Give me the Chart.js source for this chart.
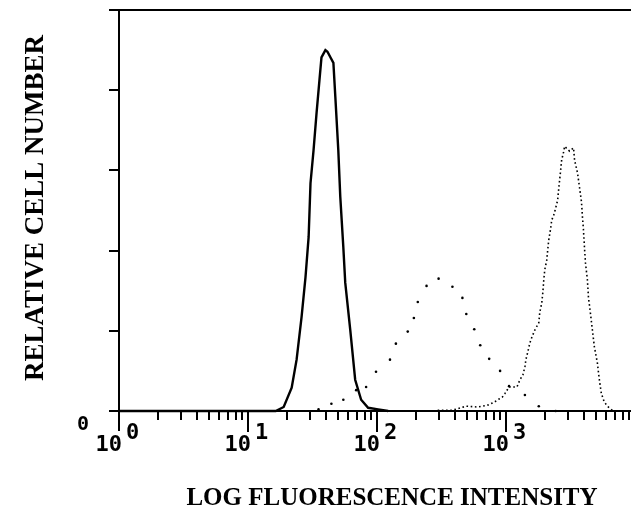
<!DOCTYPE html>
<html>
<head>
<meta charset="utf-8">
<script src="https://cdn.jsdelivr.net/npm/chart.js@4.4.1/dist/chart.umd.min.js"></script>
<style>
html,body{margin:0;padding:0;background:#fff;}
#wrap{width:635px;height:519px;position:relative;}
canvas{display:block;}
</style>
</head>
<body>
<div id="wrap"><canvas id="c" width="635" height="519"></canvas></div>
<script>
// ---- data ----
// control histogram (solid line)
const controlIntensity = [1, 16.4, 18.9, 21.8, 23.8, 26.0, 27.9, 29.5, 30.5, 32.2, 34.0, 35.8, 37.1, 39.8, 41.3, 43.5, 45.9, 47.5, 50.1, 51.9, 54.8, 56.7, 62.0, 67.7, 75.3, 85.3, 102, 122];
const controlCount     = [0, 0, 0.05, 0.29, 0.64, 1.17, 1.67, 2.17, 2.84, 3.25, 3.72, 4.13, 4.41, 4.50, 4.48, 4.41, 4.34, 3.92, 3.25, 2.67, 2.04, 1.60, 1.01, 0.39, 0.14, 0.04, 0.02, 0];

// broad histogram (sparse dots)
const broadIntensity = [35.2, 44.3, 54.8, 68.9, 82.3, 98.2, 126, 140, 173, 193, 207, 242, 300, 384, 459, 492, 567, 631, 740, 899, 1055, 1400, 1794, 2424];
const broadCount     = [0.02, 0.09, 0.14, 0.26, 0.30, 0.49, 0.64, 0.84, 0.99, 1.16, 1.36, 1.56, 1.65, 1.55, 1.41, 1.21, 1.02, 0.82, 0.65, 0.50, 0.31, 0.20, 0.06, 0.0];

// bright histogram (dotted line)
const brightIntensity = [295, 384, 492, 598, 714, 809, 884, 932, 982, 1055, 1112, 1215, 1281, 1351, 1400, 1425, 1476, 1530, 1585, 1672, 1794, 1826, 1892, 1926, 1960, 1995, 2068, 2104, 2142, 2219, 2259, 2340, 2424, 2512, 2556, 2602, 2649, 2697, 2794, 2843, 3107, 3336, 3395, 3580, 3709, 3842, 3911, 3981, 4053, 4125, 4274, 4351, 4507, 4669, 4837, 5102, 5285, 5476, 5774, 6197, 6773, 8500];
const brightCount     = [0.01, 0.01, 0.06, 0.05, 0.07, 0.11, 0.15, 0.17, 0.22, 0.30, 0.30, 0.30, 0.39, 0.45, 0.55, 0.64, 0.74, 0.85, 0.92, 1.01, 1.10, 1.23, 1.35, 1.47, 1.63, 1.76, 1.88, 2.01, 2.13, 2.28, 2.38, 2.44, 2.53, 2.63, 2.76, 2.88, 3.00, 3.13, 3.23, 3.30, 3.24, 3.28, 3.13, 2.97, 2.79, 2.61, 2.42, 2.26, 2.04, 1.85, 1.63, 1.42, 1.22, 1.01, 0.80, 0.60, 0.39, 0.22, 0.11, 0.05, 0.0, 0.0];

// axes
const X_MIN = 1, X_MAX = 9300, Y_MIN = 0, Y_MAX = 5;
const xDecades = [1, 10, 100, 1000];
const xDecadeBase = ['10', '10', '10', '10'];
const xDecadeExp  = ['0', '1', '2', '3'];
const xMinorMult = [2, 3, 4, 5, 6, 7, 8, 9];
const yTickValues = [0, 1, 2, 3, 4, 5];
const yZeroLabel = '0';
const xTitle = 'LOG FLUORESCENCE INTENSITY';
const yTitle = 'RELATIVE CELL NUMBER';

const pts = (xs, ys) => xs.map((v, i) => ({x: v, y: ys[i]}));

const axesPlugin = {
  id: 'fcmAxes',
  afterDatasetsDraw(chart) {
    const {ctx, chartArea: a, scales: {x, y}} = chart;
    ctx.save();
    ctx.strokeStyle = '#000';
    ctx.fillStyle = '#000';
    ctx.lineWidth = 2;
    const line = (x1, y1, x2, y2) => { ctx.beginPath(); ctx.moveTo(x1, y1); ctx.lineTo(x2, y2); ctx.stroke(); };
    const x0 = Math.round(x.getPixelForValue(X_MIN));
    const yb = Math.round(y.getPixelForValue(Y_MIN));
    const yt = Math.round(y.getPixelForValue(Y_MAX));
    // frame
    line(x0, yt - 1, x0, yb + 20);
    line(x0 - 9, yt, a.right, yt);
    line(x0 - 10, yb, a.right, yb);
    // y ticks
    yTickValues.forEach(v => { const p = Math.round(y.getPixelForValue(v)); line(x0 - 10, p, x0, p); });
    // x minor + decade ticks
    xDecades.forEach(d => {
      xMinorMult.forEach(m => {
        const v = d * m;
        if (v < X_MAX) { const p = Math.round(x.getPixelForValue(v)); line(p, yb, p, yb + 9); }
      });
      if (d > X_MIN) { const p = Math.round(x.getPixelForValue(d)); line(p, yb, p, yb + 21); }
    });
    // decade labels
    xDecades.forEach((d, i) => {
      const p = x.getPixelForValue(d);
      ctx.font = 'bold 22px "DejaVu Sans Mono"';
      ctx.textBaseline = 'alphabetic';
      ctx.textAlign = 'right';
      ctx.fillText(xDecadeBase[i], p + 3, yb + 40);
      ctx.textAlign = 'left';
      ctx.fillText(xDecadeExp[i], p + 7, yb + 28);
    });
    // zero label on y
    ctx.font = 'bold 20px "DejaVu Sans Mono"';
    ctx.textAlign = 'center';
    ctx.fillText(yZeroLabel, x0 - 36, yb + 19);
    // axis titles
    ctx.font = 'bold 25px "Liberation Serif"';
    ctx.textAlign = 'center';
    ctx.fillText(xTitle, 392, 505);
    ctx.save();
    ctx.translate(36, 208);
    ctx.rotate(-Math.PI / 2);
    ctx.font = 'bold 27px "Liberation Serif"';
    ctx.textBaseline = 'middle';
    ctx.fillText(yTitle, 0, 0);
    ctx.restore();
    ctx.restore();
  }
};

new Chart(document.getElementById('c'), {
  type: 'scatter',
  data: {
    datasets: [
      { label: 'control', data: pts(controlIntensity, controlCount), showLine: true, borderColor: '#000', borderWidth: 2.4, pointRadius: 0, tension: 0, clip: false },
      { label: 'broad', data: pts(broadIntensity, broadCount), showLine: false, pointRadius: 1.3, pointBorderWidth: 0, backgroundColor: '#000', borderColor: '#000', clip: false },
      { label: 'bright', data: pts(brightIntensity, brightCount), showLine: true, borderColor: '#000', borderWidth: 1.6, borderDash: [1.6, 2.6], pointRadius: 0, tension: 0, clip: false }
    ]
  },
  options: {
    responsive: false,
    animation: false,
    devicePixelRatio: 1,
    layout: { padding: { left: 119, right: 0, top: 10, bottom: 108 } },
    plugins: { legend: { display: false }, tooltip: { enabled: false }, title: { display: false } },
    scales: {
      x: { type: 'logarithmic', min: X_MIN, max: X_MAX, display: false },
      y: { type: 'linear', min: Y_MIN, max: Y_MAX, display: false }
    }
  },
  plugins: [axesPlugin]
});
</script>
</body>
</html>
